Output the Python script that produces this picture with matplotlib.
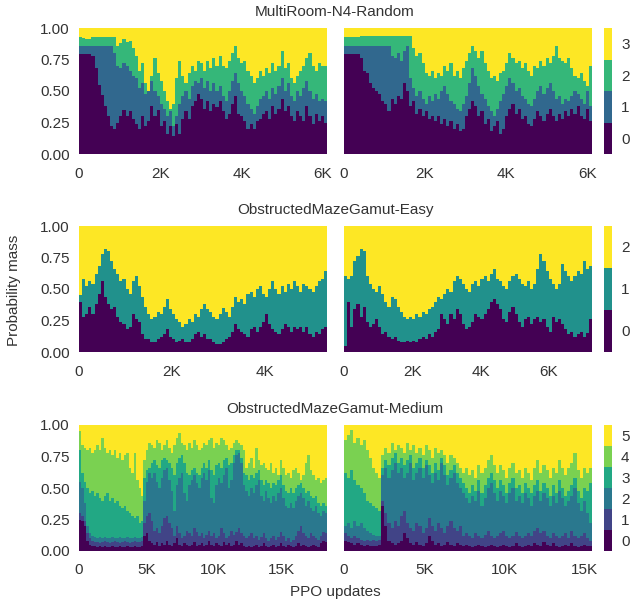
import numpy as np
import matplotlib
matplotlib.use('Agg')
import matplotlib.pyplot as plt
from matplotlib.colors import ListedColormap, BoundaryNorm
from matplotlib.ticker import MultipleLocator, FuncFormatter

plt.rcParams['font.family'] = ['Liberation Sans', 'DejaVu Sans']
plt.rcParams['font.size'] = 11
TEXT = '#333333'

# ---- MultiRoom-N4-Random: cumulative mass of levels 0..2 (level 3 fills to 1) ----
mr_updates = [6100, 6120]

mr_left_b0 = [0.79, 0.79, 0.79, 0.79, 0.78, 0.68, 0.55, 0.47, 0.38, 0.30,
              0.22, 0.20, 0.25, 0.30, 0.35, 0.30, 0.34, 0.28, 0.24, 0.20,
              0.30, 0.22, 0.26, 0.38, 0.30, 0.35, 0.22, 0.26, 0.16, 0.22,
              0.14, 0.24, 0.16, 0.28, 0.34, 0.28, 0.38, 0.42, 0.48, 0.44,
              0.36, 0.42, 0.34, 0.40, 0.37, 0.42, 0.34, 0.28, 0.32, 0.40,
              0.46, 0.32, 0.30, 0.26, 0.20, 0.24, 0.20, 0.26, 0.28, 0.32,
              0.34, 0.28, 0.38, 0.32, 0.36, 0.44, 0.34, 0.38, 0.30, 0.26,
              0.34, 0.30, 0.26, 0.38, 0.30, 0.24, 0.32, 0.26, 0.30, 0.25]
mr_left_b1 = [0.855, 0.855, 0.855, 0.855, 0.855, 0.855, 0.855, 0.855, 0.855, 0.855,
              0.855, 0.80, 0.70, 0.68, 0.72, 0.70, 0.66, 0.62, 0.60, 0.52,
              0.56, 0.48, 0.50, 0.58, 0.50, 0.46, 0.40, 0.36, 0.30, 0.34,
              0.22, 0.30, 0.40, 0.46, 0.50, 0.44, 0.54, 0.58, 0.56, 0.60,
              0.52, 0.58, 0.50, 0.56, 0.50, 0.54, 0.46, 0.42, 0.50, 0.58,
              0.64, 0.56, 0.50, 0.46, 0.40, 0.36, 0.32, 0.38, 0.44, 0.46,
              0.50, 0.44, 0.52, 0.48, 0.54, 0.60, 0.50, 0.56, 0.46, 0.42,
              0.50, 0.46, 0.52, 0.58, 0.50, 0.44, 0.48, 0.42, 0.44, 0.42]
mr_left_b2 = [0.93, 0.92, 0.915, 0.915, 0.925, 0.925, 0.925, 0.925, 0.925, 0.925,
              0.925, 0.925, 0.86, 0.88, 0.91, 0.89, 0.90, 0.84, 0.78, 0.66,
              0.72, 0.56, 0.50, 0.62, 0.76, 0.64, 0.58, 0.50, 0.42, 0.36,
              0.40, 0.60, 0.74, 0.62, 0.56, 0.64, 0.70, 0.66, 0.74, 0.72,
              0.66, 0.74, 0.68, 0.76, 0.70, 0.78, 0.70, 0.68, 0.74, 0.80,
              0.86, 0.76, 0.72, 0.74, 0.66, 0.62, 0.56, 0.60, 0.66, 0.62,
              0.68, 0.64, 0.72, 0.66, 0.70, 0.82, 0.68, 0.72, 0.60, 0.56,
              0.62, 0.66, 0.70, 0.76, 0.80, 0.70, 0.66, 0.72, 0.70, 0.70]

mr_right_b0 = [0.79, 0.79, 0.79, 0.79, 0.79, 0.76, 0.66, 0.64, 0.56, 0.52,
               0.50, 0.48, 0.42, 0.40, 0.34, 0.44, 0.40, 0.46, 0.44, 0.56,
               0.50, 0.38, 0.42, 0.32, 0.36, 0.30, 0.34, 0.28, 0.30, 0.26,
               0.30, 0.24, 0.28, 0.22, 0.26, 0.20, 0.24, 0.18, 0.20, 0.30,
               0.36, 0.42, 0.38, 0.30, 0.34, 0.24, 0.28, 0.18, 0.22, 0.26,
               0.16, 0.20, 0.30, 0.36, 0.40, 0.32, 0.36, 0.28, 0.30, 0.24,
               0.22, 0.28, 0.34, 0.30, 0.26, 0.32, 0.36, 0.30, 0.26, 0.32,
               0.28, 0.34, 0.30, 0.36, 0.32, 0.38, 0.30, 0.28, 0.36, 0.26]
mr_right_b1 = [0.855, 0.855, 0.855, 0.855, 0.855, 0.855, 0.855, 0.855, 0.855, 0.855,
               0.855, 0.855, 0.855, 0.855, 0.855, 0.78, 0.76, 0.80, 0.74, 0.82,
               0.86, 0.60, 0.52, 0.46, 0.50, 0.44, 0.40, 0.46, 0.42, 0.48,
               0.44, 0.50, 0.54, 0.48, 0.42, 0.40, 0.36, 0.34, 0.40, 0.46,
               0.56, 0.68, 0.62, 0.54, 0.48, 0.44, 0.38, 0.34, 0.30, 0.36,
               0.42, 0.48, 0.54, 0.60, 0.56, 0.50, 0.52, 0.46, 0.44, 0.40,
               0.38, 0.44, 0.50, 0.54, 0.48, 0.52, 0.56, 0.50, 0.44, 0.46,
               0.40, 0.44, 0.42, 0.46, 0.50, 0.48, 0.44, 0.40, 0.50, 0.38]
mr_right_b2 = [0.925, 0.925, 0.925, 0.925, 0.925, 0.935, 0.935, 0.935, 0.935, 0.935,
               0.935, 0.935, 0.935, 0.935, 0.935, 0.935, 0.935, 0.935, 0.935, 0.935,
               0.935, 0.935, 0.84, 0.78, 0.80, 0.72, 0.64, 0.62, 0.66, 0.60,
               0.64, 0.62, 0.70, 0.66, 0.72, 0.62, 0.66, 0.60, 0.68, 0.74,
               0.80, 0.86, 0.82, 0.76, 0.82, 0.72, 0.66, 0.60, 0.62, 0.58,
               0.64, 0.66, 0.72, 0.80, 0.76, 0.72, 0.74, 0.68, 0.72, 0.66,
               0.62, 0.70, 0.68, 0.74, 0.70, 0.76, 0.72, 0.78, 0.86, 0.76,
               0.74, 0.72, 0.76, 0.68, 0.62, 0.60, 0.64, 0.58, 0.54, 0.70]

# ---- ObstructedMazeGamut-Easy: cumulative mass of levels 0..1 ----
ome_updates = [5330, 7265]

ome_left_b0 = [0.40, 0.28, 0.30, 0.36, 0.30, 0.38, 0.46, 0.56, 0.44, 0.38,
               0.34, 0.36, 0.28, 0.24, 0.22, 0.18, 0.20, 0.30, 0.26, 0.24,
               0.14, 0.10, 0.10, 0.08, 0.08, 0.10, 0.12, 0.14, 0.18, 0.12,
               0.10, 0.08, 0.09, 0.10, 0.08, 0.08, 0.10, 0.14, 0.16, 0.12,
               0.14, 0.10, 0.10, 0.08, 0.06, 0.06, 0.08, 0.10, 0.12, 0.16,
               0.22, 0.18, 0.16, 0.14, 0.12, 0.18, 0.20, 0.16, 0.20, 0.24,
               0.30, 0.22, 0.18, 0.16, 0.14, 0.18, 0.22, 0.20, 0.16, 0.20,
               0.18, 0.20, 0.16, 0.20, 0.14, 0.12, 0.16, 0.14, 0.18, 0.20]
ome_left_b1 = [0.45, 0.58, 0.52, 0.56, 0.54, 0.62, 0.68, 0.78, 0.82, 0.80,
               0.72, 0.66, 0.62, 0.56, 0.58, 0.50, 0.46, 0.56, 0.60, 0.52,
               0.44, 0.36, 0.30, 0.26, 0.28, 0.32, 0.30, 0.36, 0.42, 0.34,
               0.30, 0.26, 0.24, 0.20, 0.22, 0.26, 0.24, 0.30, 0.28, 0.34,
               0.38, 0.34, 0.32, 0.28, 0.26, 0.30, 0.35, 0.32, 0.28, 0.36,
               0.44, 0.40, 0.42, 0.38, 0.46, 0.48, 0.44, 0.50, 0.52, 0.46,
               0.44, 0.50, 0.56, 0.50, 0.46, 0.52, 0.48, 0.54, 0.50, 0.56,
               0.52, 0.48, 0.54, 0.52, 0.50, 0.48, 0.52, 0.56, 0.58, 0.64]

ome_right_b0 = [0.05, 0.40, 0.20, 0.34, 0.38, 0.28, 0.36, 0.24, 0.20, 0.22,
                0.26, 0.20, 0.14, 0.16, 0.12, 0.10, 0.12, 0.09, 0.08, 0.08,
                0.09, 0.08, 0.09, 0.08, 0.10, 0.12, 0.10, 0.14, 0.12, 0.16,
                0.18, 0.30, 0.26, 0.22, 0.30, 0.26, 0.34, 0.30, 0.22, 0.18,
                0.20, 0.24, 0.30, 0.28, 0.26, 0.30, 0.34, 0.40, 0.42, 0.38,
                0.34, 0.26, 0.24, 0.32, 0.36, 0.30, 0.24, 0.20, 0.26, 0.28,
                0.22, 0.26, 0.28, 0.24, 0.26, 0.20, 0.16, 0.28, 0.24, 0.26,
                0.22, 0.18, 0.14, 0.16, 0.12, 0.14, 0.16, 0.12, 0.15, 0.26]
ome_right_b1 = [0.60, 0.58, 0.60, 0.72, 0.76, 0.82, 0.80, 0.60, 0.54, 0.50,
                0.48, 0.52, 0.46, 0.40, 0.36, 0.44, 0.42, 0.36, 0.32, 0.28,
                0.26, 0.28, 0.26, 0.30, 0.28, 0.32, 0.30, 0.34, 0.36, 0.40,
                0.44, 0.42, 0.46, 0.50, 0.48, 0.56, 0.60, 0.58, 0.54, 0.50,
                0.48, 0.54, 0.56, 0.52, 0.58, 0.60, 0.56, 0.62, 0.66, 0.58,
                0.56, 0.52, 0.50, 0.56, 0.60, 0.62, 0.58, 0.54, 0.52, 0.56,
                0.50, 0.54, 0.66, 0.78, 0.72, 0.64, 0.58, 0.54, 0.50, 0.54,
                0.70, 0.64, 0.60, 0.56, 0.60, 0.64, 0.62, 0.72, 0.66, 0.68]

# ---- ObstructedMazeGamut-Medium: cumulative mass of levels 0..4 ----
omm_updates = [18420, 15440]

omm_left_b0 = [0.25, 0.24, 0.20, 0.08, 0.05, 0.04, 0.04, 0.03, 0.04, 0.03,
               0.04, 0.03, 0.03, 0.04, 0.03, 0.03, 0.04, 0.03, 0.03, 0.04,
               0.03, 0.03, 0.04, 0.03, 0.03, 0.04, 0.12, 0.14, 0.08, 0.06,
               0.05, 0.07, 0.04, 0.06, 0.05, 0.08, 0.05, 0.04, 0.06, 0.10,
               0.05, 0.04, 0.06, 0.05, 0.04, 0.05, 0.07, 0.04, 0.05, 0.06,
               0.04, 0.05, 0.08, 0.05, 0.04, 0.06, 0.05, 0.04, 0.07, 0.05,
               0.06, 0.04, 0.05, 0.08, 0.05, 0.06, 0.04, 0.03, 0.04, 0.03,
               0.04, 0.05, 0.03, 0.04, 0.06, 0.04, 0.03, 0.04, 0.05, 0.03,
               0.04, 0.06, 0.04, 0.03, 0.05, 0.04, 0.03, 0.04, 0.06, 0.04,
               0.05, 0.04, 0.03, 0.04, 0.05, 0.04, 0.03, 0.06, 0.08, 0.07]
omm_left_b1 = [0.30, 0.28, 0.24, 0.14, 0.10, 0.08, 0.07, 0.07, 0.06, 0.07,
               0.08, 0.07, 0.06, 0.07, 0.08, 0.07, 0.06, 0.07, 0.08, 0.07,
               0.06, 0.07, 0.08, 0.07, 0.07, 0.08, 0.22, 0.28, 0.30, 0.24,
               0.16, 0.18, 0.14, 0.20, 0.26, 0.28, 0.22, 0.18, 0.12, 0.20,
               0.14, 0.10, 0.12, 0.16, 0.14, 0.12, 0.18, 0.15, 0.12, 0.14,
               0.10, 0.13, 0.16, 0.12, 0.14, 0.10, 0.12, 0.18, 0.14, 0.10,
               0.12, 0.16, 0.13, 0.15, 0.18, 0.14, 0.12, 0.10, 0.12, 0.14,
               0.10, 0.12, 0.09, 0.11, 0.14, 0.10, 0.08, 0.10, 0.12, 0.09,
               0.11, 0.15, 0.12, 0.08, 0.10, 0.07, 0.09, 0.12, 0.16, 0.20,
               0.14, 0.12, 0.10, 0.14, 0.12, 0.10, 0.09, 0.12, 0.15, 0.14]
omm_left_b2 = [0.55, 0.50, 0.38, 0.20, 0.14, 0.12, 0.11, 0.10, 0.11, 0.10,
               0.11, 0.10, 0.10, 0.11, 0.10, 0.10, 0.11, 0.10, 0.10, 0.11,
               0.10, 0.10, 0.11, 0.10, 0.10, 0.11, 0.40, 0.55, 0.62, 0.58,
               0.62, 0.55, 0.50, 0.58, 0.64, 0.66, 0.56, 0.48, 0.32, 0.52,
               0.58, 0.62, 0.46, 0.40, 0.52, 0.56, 0.60, 0.54, 0.50, 0.58,
               0.62, 0.56, 0.64, 0.42, 0.38, 0.52, 0.58, 0.54, 0.60, 0.66,
               0.50, 0.56, 0.70, 0.76, 0.78, 0.70, 0.52, 0.48, 0.44, 0.50,
               0.46, 0.52, 0.56, 0.44, 0.40, 0.48, 0.42, 0.38, 0.44, 0.40,
               0.46, 0.50, 0.42, 0.36, 0.34, 0.38, 0.34, 0.40, 0.44, 0.46,
               0.42, 0.36, 0.40, 0.34, 0.32, 0.36, 0.30, 0.28, 0.32, 0.30]
omm_left_b3 = [0.80, 0.62, 0.55, 0.50, 0.46, 0.48, 0.44, 0.46, 0.42, 0.40,
               0.44, 0.46, 0.40, 0.42, 0.38, 0.40, 0.36, 0.34, 0.36, 0.32,
               0.30, 0.28, 0.26, 0.28, 0.22, 0.24, 0.58, 0.64, 0.66, 0.70,
               0.72, 0.68, 0.66, 0.72, 0.74, 0.72, 0.70, 0.66, 0.60, 0.70,
               0.74, 0.76, 0.70, 0.62, 0.60, 0.64, 0.66, 0.62, 0.60, 0.66,
               0.70, 0.66, 0.72, 0.64, 0.60, 0.68, 0.70, 0.66, 0.72, 0.74,
               0.68, 0.70, 0.76, 0.80, 0.80, 0.74, 0.62, 0.60, 0.56, 0.60,
               0.58, 0.62, 0.64, 0.56, 0.52, 0.56, 0.54, 0.50, 0.54, 0.52,
               0.56, 0.60, 0.52, 0.48, 0.46, 0.50, 0.46, 0.50, 0.52, 0.54,
               0.50, 0.46, 0.48, 0.44, 0.42, 0.44, 0.38, 0.36, 0.38, 0.36]
omm_left_b4 = [0.95, 0.84, 0.82, 0.80, 0.82, 0.78, 0.80, 0.84, 0.80, 0.90,
               0.82, 0.78, 0.80, 0.76, 0.80, 0.74, 0.78, 0.72, 0.76, 0.78,
               0.66, 0.62, 0.78, 0.56, 0.50, 0.44, 0.72, 0.80, 0.86, 0.84,
               0.82, 0.88, 0.86, 0.80, 0.84, 0.88, 0.82, 0.78, 0.84, 0.90,
               0.94, 0.86, 0.84, 0.80, 0.86, 0.82, 0.88, 0.84, 0.80, 0.82,
               0.86, 0.84, 0.88, 0.90, 0.82, 0.86, 0.84, 0.90, 0.88, 0.84,
               0.80, 0.82, 0.86, 0.88, 0.86, 0.84, 0.80, 0.66, 0.70, 0.74,
               0.66, 0.82, 0.72, 0.68, 0.70, 0.66, 0.64, 0.70, 0.62, 0.66,
               0.60, 0.72, 0.66, 0.60, 0.62, 0.58, 0.64, 0.66, 0.62, 0.56,
               0.60, 0.70, 0.76, 0.64, 0.60, 0.56, 0.58, 0.54, 0.56, 0.58]

omm_right_b0 = [0.08, 0.07, 0.06, 0.05, 0.06, 0.05, 0.04, 0.05, 0.04, 0.04,
                0.04, 0.05, 0.36, 0.20, 0.08, 0.06, 0.05, 0.06, 0.08, 0.14,
                0.10, 0.06, 0.05, 0.07, 0.05, 0.04, 0.06, 0.12, 0.08, 0.05,
                0.06, 0.04, 0.05, 0.07, 0.05, 0.04, 0.06, 0.05, 0.04, 0.05,
                0.04, 0.03, 0.04, 0.05, 0.04, 0.03, 0.04, 0.05, 0.04, 0.03,
                0.04, 0.05, 0.04, 0.03, 0.04, 0.06, 0.04, 0.03, 0.04, 0.05,
                0.04, 0.06, 0.05, 0.04, 0.07, 0.05, 0.04, 0.06, 0.04, 0.03,
                0.04, 0.05, 0.04, 0.06, 0.04, 0.03, 0.04, 0.05, 0.04, 0.04]
omm_right_b1 = [0.14, 0.12, 0.10, 0.12, 0.10, 0.09, 0.08, 0.09, 0.08, 0.09,
                0.08, 0.09, 0.40, 0.30, 0.22, 0.18, 0.24, 0.20, 0.28, 0.32,
                0.22, 0.18, 0.16, 0.22, 0.20, 0.14, 0.18, 0.26, 0.20, 0.16,
                0.22, 0.18, 0.14, 0.20, 0.24, 0.18, 0.16, 0.20, 0.12, 0.14,
                0.12, 0.10, 0.14, 0.12, 0.10, 0.13, 0.16, 0.12, 0.10, 0.12,
                0.14, 0.16, 0.12, 0.10, 0.12, 0.15, 0.12, 0.10, 0.12, 0.14,
                0.12, 0.16, 0.18, 0.14, 0.16, 0.12, 0.10, 0.14, 0.12, 0.10,
                0.12, 0.14, 0.10, 0.16, 0.12, 0.10, 0.12, 0.14, 0.10, 0.08]
omm_right_b2 = [0.20, 0.22, 0.18, 0.24, 0.20, 0.22, 0.18, 0.16, 0.14, 0.13,
                0.12, 0.12, 0.60, 0.66, 0.58, 0.64, 0.70, 0.62, 0.66, 0.58,
                0.62, 0.70, 0.56, 0.62, 0.66, 0.58, 0.68, 0.60, 0.54, 0.62,
                0.56, 0.70, 0.60, 0.52, 0.58, 0.62, 0.54, 0.50, 0.46, 0.42,
                0.38, 0.44, 0.40, 0.48, 0.36, 0.42, 0.50, 0.54, 0.46, 0.40,
                0.48, 0.44, 0.38, 0.46, 0.50, 0.40, 0.44, 0.38, 0.46, 0.42,
                0.36, 0.44, 0.48, 0.40, 0.46, 0.42, 0.36, 0.44, 0.38, 0.48,
                0.42, 0.36, 0.40, 0.44, 0.50, 0.38, 0.32, 0.40, 0.30, 0.22]
omm_right_b3 = [0.62, 0.58, 0.64, 0.56, 0.52, 0.50, 0.46, 0.40, 0.38, 0.36,
                0.34, 0.32, 0.66, 0.72, 0.68, 0.74, 0.78, 0.70, 0.74, 0.68,
                0.72, 0.76, 0.66, 0.70, 0.74, 0.66, 0.72, 0.68, 0.62, 0.70,
                0.64, 0.74, 0.68, 0.60, 0.64, 0.68, 0.62, 0.58, 0.54, 0.50,
                0.46, 0.52, 0.48, 0.56, 0.46, 0.52, 0.58, 0.62, 0.56, 0.50,
                0.56, 0.52, 0.46, 0.54, 0.58, 0.50, 0.52, 0.46, 0.54, 0.50,
                0.46, 0.52, 0.56, 0.48, 0.54, 0.50, 0.44, 0.52, 0.46, 0.56,
                0.50, 0.44, 0.48, 0.52, 0.58, 0.48, 0.42, 0.50, 0.48, 0.54]
omm_right_b4 = [0.88, 0.92, 0.96, 0.86, 0.90, 0.84, 0.88, 0.80, 0.74, 0.66,
                0.62, 0.58, 0.76, 0.82, 0.78, 0.86, 0.80, 0.84, 0.82, 0.78,
                0.86, 0.80, 0.84, 0.78, 0.82, 0.76, 0.84, 0.80, 0.74, 0.82,
                0.78, 0.80, 0.76, 0.70, 0.76, 0.74, 0.70, 0.66, 0.62, 0.66,
                0.60, 0.64, 0.58, 0.68, 0.62, 0.66, 0.72, 0.76, 0.68, 0.62,
                0.68, 0.64, 0.58, 0.66, 0.70, 0.62, 0.64, 0.58, 0.66, 0.62,
                0.56, 0.66, 0.72, 0.62, 0.68, 0.64, 0.58, 0.66, 0.62, 0.72,
                0.66, 0.60, 0.66, 0.70, 0.78, 0.64, 0.58, 0.66, 0.62, 0.66]

rows = [
    ('MultiRoom-N4-Random', mr_updates,
     [[mr_left_b0, mr_left_b1, mr_left_b2], [mr_right_b0, mr_right_b1, mr_right_b2]], 2000),
    ('ObstructedMazeGamut-Easy', ome_updates,
     [[ome_left_b0, ome_left_b1], [ome_right_b0, ome_right_b1]], 2000),
    ('ObstructedMazeGamut-Medium', omm_updates,
     [[omm_left_b0, omm_left_b1, omm_left_b2, omm_left_b3, omm_left_b4],
      [omm_right_b0, omm_right_b1, omm_right_b2, omm_right_b3, omm_right_b4]], 5000),
]

W, H = 632, 601
row_tops = [28, 226, 425]
row_h = 126
col_x = [79, 344]
col_w = 248


def kfmt(x, pos):
    return '0' if x == 0 else f'{int(round(x / 1000))}K'


def draw_panel(ax, total, bounds, colors):
    n = len(bounds[0])
    edges = np.linspace(0, total, n + 1)
    # paint top level first, then cover with each lower cumulative level
    ax.stairs(np.ones(n), edges, baseline=0, fill=True, color=colors[-1], lw=0)
    for k in range(len(bounds) - 1, -1, -1):
        ax.stairs(np.asarray(bounds[k]), edges, baseline=0, fill=True,
                  color=colors[k], lw=0)
    ax.set_xlim(0, total)
    ax.set_ylim(0, 1)


fig = plt.figure(figsize=(W / 100, H / 100), dpi=100)

for (title, totals, panels, step), top in zip(rows, row_tops):
    nlev = len(panels[0]) + 1
    colors = plt.cm.viridis(np.linspace(0, 1, nlev))
    bottom = 1 - (top + row_h) / H
    for j, (total, bounds) in enumerate(zip(totals, panels)):
        ax = fig.add_axes([col_x[j] / W, bottom, col_w / W, row_h / H])
        draw_panel(ax, total, bounds, colors)
        ax.xaxis.set_major_locator(MultipleLocator(step))
        ax.xaxis.set_major_formatter(FuncFormatter(kfmt))
        ax.yaxis.set_major_locator(MultipleLocator(0.25))
        ax.yaxis.set_major_formatter(FuncFormatter(lambda v, p: f'{v:.2f}'))
        ax.tick_params(which='both', length=0, labelsize=11, labelcolor=TEXT)
        ax.tick_params(axis='x', pad=9)
        ax.tick_params(axis='y', pad=6.5)
        if j == 1:
            ax.set_yticklabels([])
        for s in ax.spines.values():
            s.set_visible(False)

    cax = fig.add_axes([604 / W, bottom, 8 / W, row_h / H])
    cmap = ListedColormap(colors)
    norm = BoundaryNorm(np.arange(nlev + 1) - 0.5, nlev)
    cb = fig.colorbar(plt.cm.ScalarMappable(norm=norm, cmap=cmap), cax=cax,
                      ticks=np.arange(nlev))
    cb.outline.set_visible(False)
    cb.ax.minorticks_off()
    cb.ax.tick_params(which='both', length=0, labelsize=11, labelcolor=TEXT, pad=6.5)

    fig.text(335 / W, 1 - (top - 16) / H, title, ha='center', va='center',
             fontsize=11, color=TEXT)

fig.text(14 / W, 1 - 290 / H, 'Probability mass', rotation=90,
         ha='center', va='center', fontsize=11, color=TEXT)
fig.text(335 / W, 1 - 592 / H, 'PPO updates', ha='center', va='center',
         fontsize=11, color=TEXT)

fig.savefig('out.png', dpi=100)
